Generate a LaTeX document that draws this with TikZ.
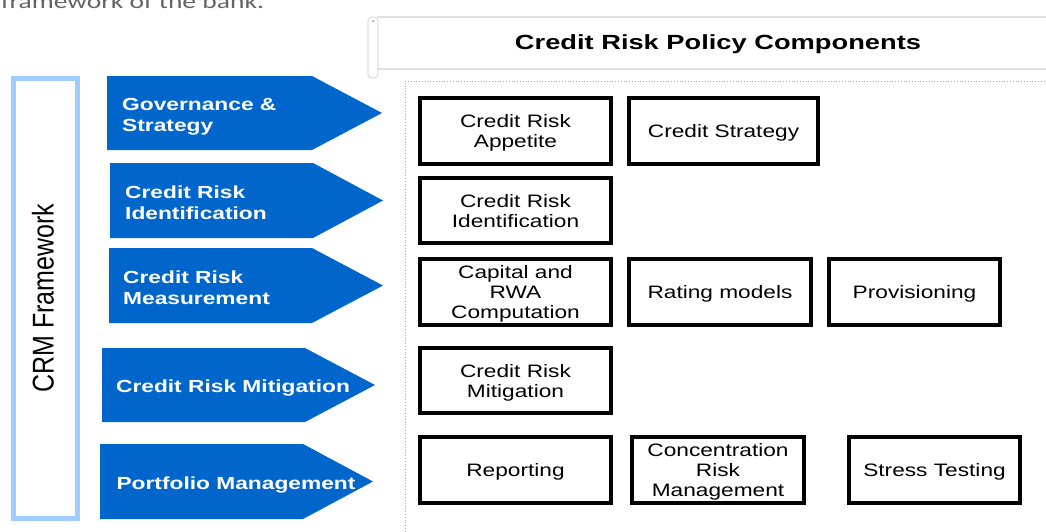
\documentclass[tikz,border=0pt]{standalone}
\usepackage{fontspec}
\setmainfont{Liberation Sans}
\newfontfamily\carl{Carlito}
\usepackage{graphicx}
\definecolor{arrowblue}{RGB}{0,102,204}
\definecolor{framebl}{RGB}{160,204,255}
\definecolor{topgray}{RGB}{100,100,100}
\definecolor{lightline}{RGB}{225,225,225}
\definecolor{dotgray}{RGB}{170,170,170}
\newcommand\stx[3]{\scalebox{#1}[1]{\begin{tabular}{@{}#2@{}}#3\end{tabular}}}
\newcommand\btx[1]{\raisebox{-2.5pt}[\height][\depth]{\stx{1.26}{c}{#1}}}
\begin{document}
\begin{tikzpicture}[x=1pt,y=-1pt,
  pbox/.style={draw=black, line width=4pt, fill=white, inner sep=0pt, minimum height=66pt,
    font=\fontsize{18}{20}\selectfont},
  arrowtxt/.style={text=white, font=\bfseries\fontsize{17.5}{21}\selectfont, inner sep=0pt},
  chev/.style={fill=arrowblue, draw=none},
  titleline/.style={draw=lightline, line width=1.2pt}]
\useasboundingbox (0,0) rectangle (1046,531);
\clip (0,0) rectangle (1046,531);

% intro text (cut off at top, as in the screenshot)
\node[anchor=base west, inner sep=0pt, text=topgray, font=\carl\fontsize{20.7}{24}\selectfont] (intro) at (1,8) {\scalebox{1.33}[1]{framework of the bank.}};

% title banner
\draw[titleline] (377,17) -- (1050,17);
\draw[titleline] (377,69) -- (1050,69);
\draw[titleline, rounded corners=4pt] (368,17) rectangle (378,78);
\fill[gray!50] (373,21) circle (1.5);
\node[font=\bfseries\fontsize{20.5}{24}\selectfont, inner sep=0pt] (title) at (718,44.5) {\scalebox{1.33}[1]{Credit Risk Policy Components}};

% dotted container
\draw[dotgray, dotted, line width=0.8pt] (1050,81) -- (405,81) -- (405,535);

% CRM framework bar
\draw[framebl, line width=5pt] (13.5,78.5) rectangle (77.5,518.5);
\node[rotate=90, font=\fontsize{25}{30}\selectfont, inner sep=0pt] (crm) at (43,298) {\scalebox{1}[1.2]{CRM Framework}};

% chevrons
\fill[chev] (107,76) -- (312,76) -- (382,113) -- (312,150) -- (107,150) -- cycle;
\fill[chev] (110,163) -- (313,163) -- (383,200.5) -- (313,238) -- (110,238) -- cycle;
\fill[chev] (109,248) -- (312,248) -- (383,285.5) -- (312,323) -- (109,323) -- cycle;
\fill[chev] (102,348) -- (305,348) -- (375,385) -- (305,422) -- (102,422) -- cycle;
\fill[chev] (100,444) -- (303,444) -- (373,481.5) -- (303,519) -- (100,519) -- cycle;

\node[arrowtxt, anchor=west] (gov) at (122,117) {\stx{1.3}{l}{Governance \&\\Strategy}};
\node[arrowtxt, anchor=west] (ident) at (125,205) {\stx{1.3}{l}{Credit Risk\\Identification}};
\node[arrowtxt, anchor=west] (meas) at (123,290) {\stx{1.3}{l}{Credit Risk\\Measurement}};
\node[arrowtxt] (mitig) at (233,388) {\stx{1.3}{c}{Credit Risk Mitigation}};
\node[arrowtxt] (port) at (236,485) {\stx{1.3}{c}{Portfolio Management}};

% policy component boxes
\node[pbox, minimum width=191pt] (appetite) at (515.5,131) {\btx{Credit Risk\\Appetite}};
\node[pbox, minimum width=189pt] (strategy) at (723.5,131) {\btx{Credit Strategy}};
\node[pbox, minimum width=191pt, minimum height=65pt] (identbox) at (515.5,210.5) {\btx{Credit Risk\\Identification}};
\node[pbox, minimum width=191pt] (capital) at (515.5,292) {\btx{Capital and\\RWA\\Computation}};
\node[pbox, minimum width=182pt] (rating) at (720,292) {\btx{Rating models}};
\node[pbox, minimum width=171pt] (prov) at (914.5,292) {\btx{Provisioning}};
\node[pbox, minimum width=191pt, minimum height=65pt] (mitigbox) at (515.5,380.5) {\btx{Credit Risk\\Mitigation}};
\node[pbox, minimum width=191pt] (report) at (515.5,470) {\btx{Reporting}};
\node[pbox, minimum width=172pt] (conc) at (718,470) {\btx{Concentration\\Risk\\Management}};
\node[pbox, minimum width=171pt] (stress) at (934.5,470) {\btx{Stress Testing}};
\end{tikzpicture}
\end{document}
